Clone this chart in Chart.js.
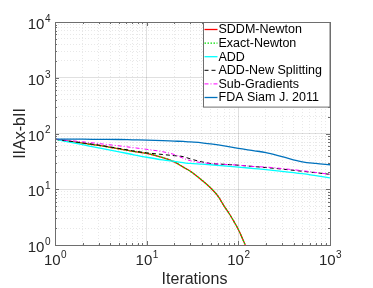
<!DOCTYPE html>
<html>
<head>
<meta charset="utf-8">
<title>Residual vs iterations</title>
<script src="https://cdn.jsdelivr.net/npm/chart.js"></script>
<style>
  html, body { margin: 0; padding: 0; background: #fff; }
</style>
</head>
<body>
<canvas id="myChart" width="373" height="288"></canvas>
<script>
    // iteration counts (x) and residual norms ||Ax-b|| (y)
    const iters = [1, 2, 3, 5, 7, 10, 15, 20, 25, 30, 40, 50, 70, 100, 150, 200, 300, 500, 700, 1000];
    const newtonIters = [1, 2, 3, 5, 7, 10, 15, 20, 25, 30, 40, 50, 60, 70, 80, 90, 100, 110, 119];

    const sddmNewton  = [79, 67, 61, 53, 48, 44, 37, 31, 25, 21, 14.5, 10.5, 7.5, 5, 3.6, 2.6, 1.9, 1.35, 1.0];
    const exactNewton = [79, 67, 61, 53, 48, 44, 37, 31, 25, 21, 14.5, 10.5, 7.5, 5, 3.6, 2.6, 1.9, 1.35, 1.0];
    const addValues   = [79, 63, 55, 47, 42, 37.5, 33.5, 31.5, 30, 29, 28.2, 27.5, 26.3, 25, 23.5, 22.5, 21, 19, 17.5, 16];
    const addNewSplit = [79, 68, 62, 54, 49, 45, 42, 40, 38.5, 35, 31, 29, 28, 27, 25.5, 24.5, 23, 21, 19.8, 18.5];
    const subGrad     = [79, 71, 66, 60, 56, 52, 47, 42, 36, 32.5, 30, 29, 28, 27, 25.5, 25, 23.5, 21.5, 20, 18.5];
    const fdaSiam     = [79, 79, 78.5, 78, 77, 76, 74.5, 73, 72, 70.5, 68, 65, 60, 54, 49, 45.5, 38.5, 31, 29, 27.5];

    const seriesNames = ['SDDM-Newton', 'Exact-Newton', 'ADD', 'ADD-New Splitting', 'Sub-Gradients', 'FDA Siam J. 2011'];

    // axis decades (powers of ten) and their exponent labels
    const xDecades = [1, 10, 100, 1000];
    const yDecades = [1, 10, 100, 1000, 10000];
    const xTickLabels = ['0', '1', '2', '3'];
    const yTickLabels = ['0', '1', '2', '3', '4'];
    const xTitle = 'Iterations';
    const yTitle = 'IIAx-bII';

    const FONT = '"Liberation Sans", Arial, sans-serif';
    const AXIS_GRAY = '#6e6e6e';

    function toPoints(xs, ys) {
        return xs.map((x, i) => ({x: x, y: ys[i]}));
    }

    function minorTicks(decades) {
        const out = [];
        for (let d = 0; d < decades.length - 1; d++) {
            for (let m = 2; m <= 9; m++) out.push({value: decades[d] * m});
        }
        return out;
    }

    const lineStyles = [
        {color: '#ff0000', width: 1.3, dash: []},
        {color: '#00dd00', width: 1.3, dash: [1.5, 1.5]},
        {color: '#00ffff', width: 1.3, dash: []},
        {color: '#000000', width: 1.0, dash: [4, 3]},
        {color: '#ff00ff', width: 1.0, dash: [4, 2, 1, 2]},
        {color: '#0072bd', width: 1.3, dash: []}
    ];

    const seriesData = [
        toPoints(newtonIters, sddmNewton),
        toPoints(newtonIters, exactNewton),
        toPoints(iters, addValues),
        toPoints(iters, addNewSplit),
        toPoints(iters, subGrad),
        toPoints(iters, fdaSiam)
    ];

    const datasets = seriesNames.map((name, i) => ({
        label: name,
        data: seriesData[i],
        borderColor: lineStyles[i].color,
        backgroundColor: lineStyles[i].color,
        borderWidth: lineStyles[i].width,
        borderDash: lineStyles[i].dash,
        pointRadius: 0,
        fill: false,
        cubicInterpolationMode: 'monotone',
        order: seriesNames.length - i,
        xAxisID: 'x',
        yAxisID: 'y'
    }));

    function drawPow(ctx, exp, x, y, align, axis) {
        ctx.font = '15px ' + FONT;
        const w1 = ctx.measureText('10').width;
        ctx.font = '10px ' + FONT;
        const w2 = ctx.measureText(exp).width;
        let left;
        if (align === 'right') left = x - w1 - w2;
        else left = x - (w1 + w2) / 2;
        ctx.fillStyle = '#262626';
        ctx.textAlign = 'left';
        ctx.textBaseline = 'middle';
        ctx.font = '15px ' + FONT;
        ctx.fillText('10', left, y + (axis === 'y' ? 3 : 0));
        ctx.font = '10px ' + FONT;
        ctx.fillText(exp, left + w1 + 0.5, y + (axis === 'y' ? -3 : -6));
    }

    const matlabAxes = {
        id: 'matlabAxes',
        afterDraw(chart) {
            const ctx = chart.ctx;
            const a = chart.chartArea;
            const xs = chart.scales.x, ys = chart.scales.y;
            ctx.save();

            // inward tick marks on all four sides
            ctx.strokeStyle = AXIS_GRAY;
            ctx.lineWidth = 1;
            ctx.beginPath();
            xDecades.concat(minorTicks(xDecades).map(t => t.value)).forEach(v => {
                const px = Math.round(xs.getPixelForValue(v)) + 0.5;
                const len = xDecades.includes(v) ? 4 : 2;
                ctx.moveTo(px, a.bottom); ctx.lineTo(px, a.bottom - len);
                ctx.moveTo(px, a.top); ctx.lineTo(px, a.top + len);
            });
            yDecades.concat(minorTicks(yDecades).map(t => t.value)).forEach(v => {
                const py = Math.round(ys.getPixelForValue(v)) + 0.5;
                const len = yDecades.includes(v) ? 4 : 2;
                ctx.moveTo(a.left, py); ctx.lineTo(a.left + len, py);
                ctx.moveTo(a.right, py); ctx.lineTo(a.right - len, py);
            });
            ctx.stroke();

            // box
            ctx.strokeRect(Math.round(a.left) + 0.5, Math.round(a.top) + 0.5,
                Math.round(a.right - a.left), Math.round(a.bottom - a.top));

            // tick labels
            xDecades.forEach((v, i) => drawPow(ctx, xTickLabels[i], xs.getPixelForValue(v), a.bottom + 16, 'center', 'x'));
            yDecades.forEach((v, i) => drawPow(ctx, yTickLabels[i], a.left - 5, ys.getPixelForValue(v), 'right', 'y'));

            // axis titles
            ctx.fillStyle = '#262626';
            ctx.font = '16px ' + FONT;
            ctx.textAlign = 'center';
            ctx.textBaseline = 'middle';
            ctx.fillText(xTitle, (a.left + a.right) / 2 + 2, a.bottom + 35);
            ctx.save();
            ctx.translate(21, (a.top + a.bottom) / 2);
            ctx.rotate(-Math.PI / 2);
            ctx.fillText(yTitle, 0, 0);
            ctx.restore();

            // legend box in the upper right corner
            ctx.font = '12.5px ' + FONT;
            let maxW = 0;
            seriesNames.forEach(n => { maxW = Math.max(maxW, ctx.measureText(n).width); });
            const rowH = 13.6;
            const boxW = maxW + 23;
            const boxH = seriesNames.length * rowH + 3;
            const bx = Math.round(a.right - boxW) + 0.5;
            const by = Math.round(a.top) + 0.5;
            ctx.fillStyle = '#ffffff';
            ctx.fillRect(bx, by, boxW, boxH);
            ctx.strokeStyle = AXIS_GRAY;
            ctx.setLineDash([]);
            ctx.strokeRect(bx, by, Math.round(boxW) - 0.5, boxH);
            seriesNames.forEach((n, i) => {
                const cy = by + 7 + i * rowH;
                ctx.strokeStyle = lineStyles[i].color;
                ctx.lineWidth = lineStyles[i].width;
                ctx.setLineDash(lineStyles[i].dash);
                ctx.beginPath();
                ctx.moveTo(bx + 1, cy);
                ctx.lineTo(bx + 14, cy);
                ctx.stroke();
                ctx.setLineDash([]);
                ctx.fillStyle = '#000000';
                ctx.textAlign = 'left';
                ctx.textBaseline = 'middle';
                ctx.fillText(n, bx + 15, cy + 0.5);
            });
            ctx.restore();
        }
    };

    function logScale(axis, decades, major) {
        const s = {
            type: 'logarithmic',
            position: axis === 'x' ? 'bottom' : 'left',
            min: decades[0],
            max: decades[decades.length - 1],
            ticks: {display: false, autoSkip: false},
            border: {display: false, dash: major ? [] : [1, 2]},
            grid: {
                drawTicks: false,
                color: major ? 'rgba(0,0,0,0.12)' : 'rgba(0,0,0,0.09)',
                lineWidth: 1
            },
            afterBuildTicks: scale => {
                scale.ticks = major ? decades.map(v => ({value: v})) : minorTicks(decades);
            }
        };
        if (axis === 'x') {
            s.afterFit = scale => { scale.height = major ? 43 : 0; };
        } else {
            s.afterFit = scale => { scale.width = major ? 55 : 0; };
        }
        return s;
    }

    const ctx = document.getElementById('myChart').getContext('2d');
    const chart = new Chart(ctx, {
        type: 'line',
        data: {datasets: datasets},
        options: {
            responsive: false,
            animation: false,
            devicePixelRatio: 1,
            layout: {padding: {top: 22, right: 43, left: 0, bottom: 0}},
            scales: {
                x: logScale('x', xDecades, true),
                x2: logScale('x', xDecades, false),
                y: logScale('y', yDecades, true),
                y2: logScale('y', yDecades, false)
            },
            plugins: {
                legend: {display: false},
                tooltip: {enabled: false}
            }
        },
        plugins: [matlabAxes]
    });
</script>
</body>
</html>
